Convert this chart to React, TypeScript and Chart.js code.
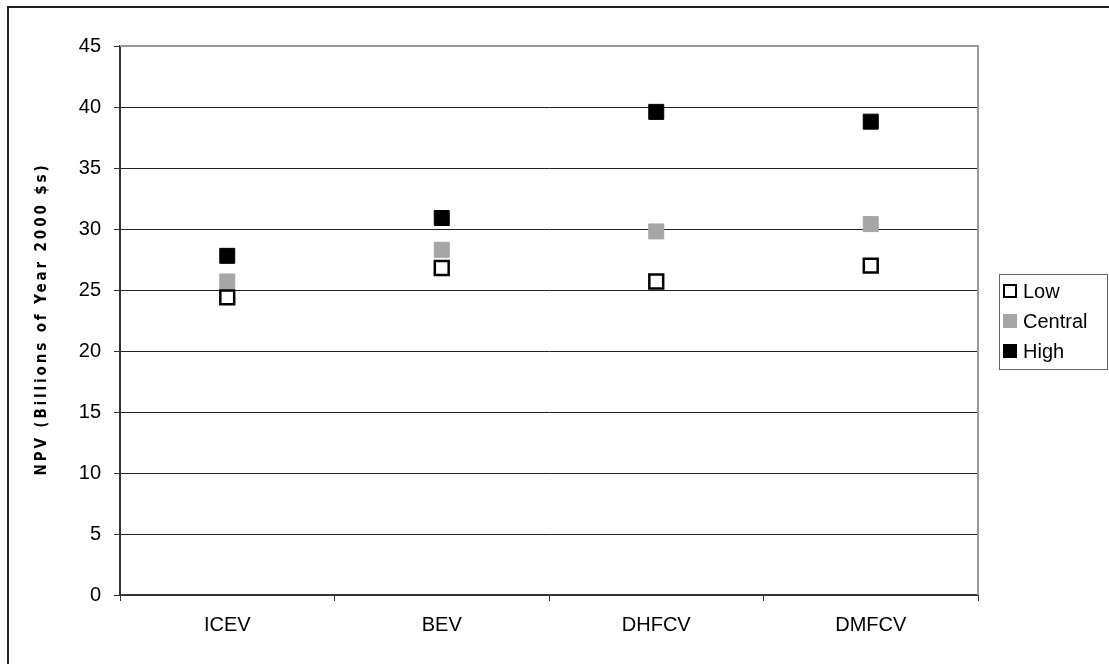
import React, { useEffect, useRef } from "react";
import { Chart, registerables } from "chart.js";

Chart.register(...registerables);

const categories = ["ICEV", "BEV", "DHFCV", "DMFCV"];
const lowValues = [24.4, 26.8, 25.7, 27.0];
const centralValues = [25.7, 28.3, 29.8, 30.4];
const highValues = [27.8, 30.9, 39.6, 38.8];
const seriesNames = ["Low", "Central", "High"];
const yMin = 0;
const yMax = 45;
const yStep = 5;
const yTitle = "NPV (Billions of Year 2000 $s)";

const FONT = "'Liberation Sans', Arial, sans-serif";

const decorPlugin = {
  id: "decor",
  beforeDatasetsDraw(chart: any) {
    const { ctx, chartArea } = chart;
    ctx.save();
    ctx.strokeStyle = "#9a9a9a";
    ctx.lineWidth = 2;
    ctx.beginPath();
    ctx.moveTo(chartArea.left, chartArea.top);
    ctx.lineTo(chartArea.right, chartArea.top);
    ctx.lineTo(chartArea.right, chartArea.bottom);
    ctx.stroke();
    ctx.restore();
  },
  afterDraw(chart: any) {
    const { ctx } = chart;
    ctx.save();
    // y axis title
    ctx.font = `bold 15px 'DejaVu Sans Condensed', 'DejaVu Sans', sans-serif`;
    const w = ctx.measureText(yTitle).width;
    const target = 310;
    const spacing = Math.max(0, (target - w) / (yTitle.length - 1));
    (ctx as any).letterSpacing = `${spacing.toFixed(2)}px`;
    ctx.translate(42, 319);
    ctx.rotate(-Math.PI / 2);
    ctx.fillStyle = "#000";
    ctx.textAlign = "center";
    ctx.textBaseline = "middle";
    ctx.fillText(yTitle, 0, 0);
    ctx.restore();

    // legend
    ctx.save();
    const lx = 999, ly = 274, lw = 108, lh = 95;
    ctx.strokeStyle = "#666";
    ctx.lineWidth = 1;
    ctx.strokeRect(lx + 0.5, ly + 0.5, lw, lh);
    ctx.font = `20px ${FONT}`;
    ctx.textBaseline = "middle";
    ctx.textAlign = "left";
    chart.data.datasets.forEach((ds: any, i: number) => {
      const cy = ly + 17 + i * 30;
      const size = 14;
      const x0 = lx + 4;
      if (ds.pointBackgroundColor === "#ffffff") {
        ctx.fillStyle = "#fff";
        ctx.fillRect(x0, cy - size / 2, size, size);
        ctx.strokeStyle = "#000";
        ctx.lineWidth = 2;
        ctx.strokeRect(x0 + 1, cy - size / 2 + 1, size - 2, size - 2);
      } else {
        ctx.fillStyle = ds.pointBackgroundColor;
        ctx.fillRect(x0, cy - size / 2, size, size);
      }
      ctx.fillStyle = "#000";
      ctx.fillText(ds.label, x0 + size + 6, cy + 1);
    });
    ctx.restore();
  },
};

export default function App() {
  const canvasRef = useRef<HTMLCanvasElement | null>(null);

  useEffect(() => {
    if (!canvasRef.current) return;
    const mk = (label: string, data: number[], fill: string, border: string, bw: number, radius: number) => ({
      label,
      data,
      showLine: false,
      pointStyle: "rect",
      pointRadius: radius,
      pointHoverRadius: radius,
      pointBackgroundColor: fill,
      pointBorderColor: border,
      pointBorderWidth: bw,
      backgroundColor: fill,
      borderColor: border,
    });
    const chart = new Chart(canvasRef.current, {
      type: "line",
      data: {
        labels: categories,
        datasets: [
          mk(seriesNames[0], lowValues, "#ffffff", "#000000", 2.5, 9.8),
          mk(seriesNames[1], centralValues, "#a6a6a6", "#a6a6a6", 1, 10.6),
          mk(seriesNames[2], highValues, "#000000", "#000000", 1, 10.6),
        ],
      },
      options: {
        animation: false,
        responsive: true,
        maintainAspectRatio: false,
        layout: { padding: { left: 0, top: 46, right: 131, bottom: 0 } },
        plugins: {
          legend: { display: false },
          tooltip: { enabled: false },
          title: { display: false },
        },
        scales: {
          x: {
            type: "category",
            offset: true,
            grid: {
              offset: true,
              drawOnChartArea: false,
              drawTicks: true,
              tickLength: 6,
              tickColor: "#333",
            },
            border: { color: "#333", width: 2 },
            ticks: {
              color: "#000",
              font: { family: FONT, size: 20 },
              padding: 12,
              maxRotation: 0,
              autoSkip: false,
            },
            afterFit: (s: any) => {
              s.height = 69;
            },
          },
          y: {
            min: yMin,
            max: yMax,
            ticks: {
              stepSize: yStep,
              color: "#000",
              font: { family: FONT, size: 20 },
              padding: 13,
            },
            grid: {
              color: "#222",
              lineWidth: 1,
              drawTicks: true,
              tickLength: 6,
              tickColor: "#333",
            },
            border: { color: "#333", width: 2 },
            afterFit: (s: any) => {
              s.width = 120;
            },
          },
        },
      },
      plugins: [decorPlugin],
    } as any);
    return () => chart.destroy();
  }, []);

  return (
    <div style={{ position: "fixed", left: 0, top: 0, width: 1109, height: 664, overflow: "hidden", background: "#fff" }}>
      <div
        style={{
          position: "absolute",
          left: 7,
          top: 6,
          width: 1300,
          height: 900,
          borderLeft: "2px solid #222",
          borderTop: "2px solid #222",
        }}
      />
      <div style={{ position: "absolute", left: 0, top: 0, width: 1109, height: 664 }}>
        <canvas ref={canvasRef} />
      </div>
    </div>
  );
}
